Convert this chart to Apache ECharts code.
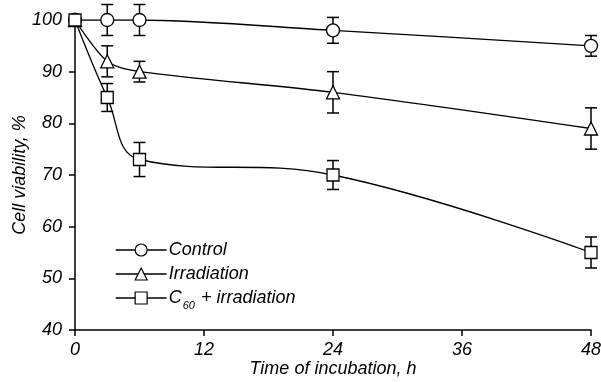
<!DOCTYPE html>
<html>
<head>
<meta charset="utf-8">
<script src="https://cdn.jsdelivr.net/npm/echarts@6/dist/echarts.min.js"></script>
<style>
  html, body { margin: 0; padding: 0; background: #fff; }
  #chart { width: 601px; height: 382px; }
</style>
</head>
<body>
<div id="chart"></div>
<script>
var horas = [0, 3, 6, 24, 48];

var control = [100, 100, 100, 98, 95];
var controlErr = [0, 3, 3, 2.5, 2];

var irradiacion = [100, 92, 90, 86, 79];
var irradiacionErr = [0, 3, 2, 4, 4];

var c60 = [100, 85, 73, 70, 55];
var c60Err = [0, 2.7, 3.3, 2.8, 3];

var ticksX = [0, 12, 24, 36, 48];
var ticksY = [40, 50, 60, 70, 80, 90, 100];

var fuente = "Liberation Sans";

function puntos(valores) {
  return horas.map(function (h, i) { return [h, valores[i]]; });
}

function barras(valores, errores) {
  var res = [];
  horas.forEach(function (h, i) {
    if (errores[i] > 0) res.push([h, valores[i] - errores[i], valores[i] + errores[i]]);
  });
  return res;
}

function dibujarError(params, api) {
  var x = api.value(0);
  var bajo = api.coord([x, api.value(1)]);
  var alto = api.coord([x, api.value(2)]);
  var w = 6;
  var estilo = { stroke: "#000", lineWidth: 1.5 };
  return {
    type: "group",
    children: [
      { type: "line", shape: { x1: alto[0], y1: alto[1], x2: bajo[0], y2: bajo[1] }, style: estilo },
      { type: "line", shape: { x1: alto[0] - w, y1: alto[1], x2: alto[0] + w, y2: alto[1] }, style: estilo },
      { type: "line", shape: { x1: bajo[0] - w, y1: bajo[1], x2: bajo[0] + w, y2: bajo[1] }, style: estilo }
    ]
  };
}

function serieLinea(nombre, valores, simbolo, tam, suave) {
  return {
    name: nombre,
    type: "line",
    data: puntos(valores),
    smooth: suave,
    symbol: simbolo,
    symbolSize: tam,
    showAllSymbol: true,
    z: 3,
    lineStyle: { color: "#000", width: 1.3 },
    itemStyle: { color: "#fff", borderColor: "#000", borderWidth: 1.3 }
  };
}

function serieError(valores, errores) {
  return {
    type: "custom",
    renderItem: dibujarError,
    data: barras(valores, errores),
    z: 2,
    silent: true
  };
}

var chart = echarts.init(document.getElementById("chart"));
var option = {
  animation: false,
  grid: { left: 75, right: 10, top: 20, bottom: 52, outerBoundsMode: "none", containLabel: false },
  legend: {
    orient: "vertical",
    left: 110,
    top: 236,
    itemWidth: 51,
    itemHeight: 15,
    itemGap: 6,
    lineStyle: { width: 1.3, color: "#000" },
    itemStyle: { borderWidth: 1.2, borderColor: "#000", color: "#fff" },
    data: ["Control", "Irradiation", "C60 + irradiation"],
    formatter: function (name) {
      if (name === "C60 + irradiation") return "{a|C}{s|60}{a| + irradiation}";
      return "{a|" + name + "}";
    },
    textStyle: {
      color: "#000",
      padding: [0, 0, 0, -3],
      rich: {
        a: { fontFamily: fuente, fontStyle: "italic", fontSize: 18, lineHeight: 18, color: "#000", verticalAlign: "top" },
        s: { fontFamily: fuente, fontStyle: "italic", fontSize: 11, lineHeight: 11, color: "#000", verticalAlign: "top", padding: [11, 1, 0, 1] }
      }
    }
  },
  xAxis: {
    type: "value",
    min: 0,
    max: 48,
    interval: 12,
    name: "Time of incubation, h",
    nameLocation: "middle",
    nameGap: 30,
    nameMoveOverlap: false,
    nameTextStyle: { fontFamily: fuente, fontStyle: "italic", fontSize: 18, color: "#000" },
    axisLine: { lineStyle: { color: "#000", width: 1.5 } },
    axisTick: { show: true, inside: false, length: 6, lineStyle: { color: "#000", width: 1.5 } },
    axisLabel: {
      margin: 11,
      fontFamily: fuente, fontStyle: "italic", fontSize: 18, color: "#000",
      customValues: ticksX
    },
    splitLine: { show: false }
  },
  yAxis: {
    type: "value",
    min: 40,
    max: 100,
    interval: 10,
    name: "Cell viability, %",
    nameLocation: "middle",
    nameGap: 46,
    nameMoveOverlap: false,
    nameRotate: 90,
    nameTextStyle: { fontFamily: fuente, fontStyle: "italic", fontSize: 18, color: "#000" },
    axisLine: { show: true, lineStyle: { color: "#000", width: 1.5 } },
    axisTick: { show: true, inside: false, length: 6, lineStyle: { color: "#000", width: 1.5 } },
    axisLabel: {
      margin: 13,
      fontFamily: fuente, fontStyle: "italic", fontSize: 18, color: "#000",
      customValues: ticksY
    },
    splitLine: { show: false }
  },
  series: [
    serieError(control, controlErr),
    serieError(irradiacion, irradiacionErr),
    serieError(c60, c60Err),
    serieLinea("Control", control, "circle", 13, 0.3),
    serieLinea("Irradiation", irradiacion, "triangle", 13, 0.3),
    serieLinea("C60 + irradiation", c60, "rect", 12, 0.4)
  ]
};
chart.setOption(option);
</script>
</body>
</html>
